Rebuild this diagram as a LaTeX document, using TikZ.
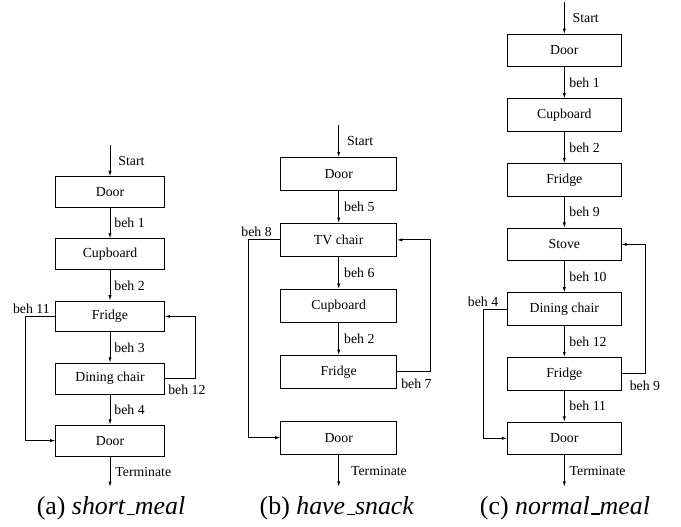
\documentclass[tikz,border=0pt]{standalone}
\usepackage{fontspec}
\setmainfont{Liberation Serif}
\usetikzlibrary{arrows.meta}
\newcommand\lowbar{\kern0.06em\rule[-0.02em]{0.32em}{0.05em}}
\begin{document}
\begin{tikzpicture}[x=0.75pt,y=-0.75pt,
  every node/.style={font=\fontsize{10.35}{12}\selectfont},
  boxa/.style={draw, line width=0.6pt, minimum width=81.4pt, minimum height=23.2pt, inner sep=0pt},
  boxb/.style={draw, line width=0.6pt, minimum width=86.8pt, minimum height=24.7pt, inner sep=0pt},
  boxc/.style={draw, line width=0.6pt, minimum width=85pt, minimum height=24.3pt, inner sep=0pt},
  arr/.style={line width=0.6pt, -{Latex[length=4pt,width=2.4pt]}},
  lbl/.style={anchor=west, inner sep=0pt},
  side/.style={inner sep=0pt},
  capt/.style={font=\fontsize{19.4}{22}\selectfont}]
\useasboundingbox (0,0) rectangle (681,527);

% ---------------- (a) short_meal ----------------
\node[boxa] (a1) at (110,192.2) {Door};
\node[boxa] (a2) at (110,254.3) {Cupboard};
\node[boxa] (a3) at (110,316.4) {Fridge};
\node[boxa] (a4) at (110,378.5) {Dining chair};
\node[boxa] (a5) at (110,440.6) {Door};
\coordinate (as) at (110,145);
\coordinate (at) at (110,487);
\coordinate (aL) at (25,0);
\coordinate (aR) at (195,0);
\draw[arr] (as) -- (a1) node[lbl, midway, xshift=6pt] {Start};
\draw[arr] (a1) -- (a2) node[lbl, midway, xshift=3pt] {beh 1};
\draw[arr] (a2) -- (a3) node[lbl, midway, xshift=3pt] {beh 2};
\draw[arr] (a3) -- (a4) node[lbl, midway, xshift=3pt] {beh 3};
\draw[arr] (a4) -- (a5) node[lbl, midway, xshift=3pt] {beh 4};
\draw[arr] (a5) -- (at) node[lbl, midway, xshift=3.75pt] {Terminate};
\draw[arr] (a3.west) -- (a3.west -| aL) |- (a5.west);
\draw[arr] (a4.east) -- (a4.east -| aR) |- (a3.east);
\node[side, anchor=base east] (la11) at (50,313) {beh 11};
\node[side, anchor=base west] (la12) at (168,394) {beh 12};
\node[capt] (capa) at (111,508.5) {(a) \textit{short\lowbar meal}};

% ---------------- (b) have_snack ----------------
\node[boxb] (b1) at (338.7,174) {Door};
\node[boxb] (b2) at (338.7,239.9) {TV chair};
\node[boxb] (b3) at (338.7,305.8) {Cupboard};
\node[boxb] (b4) at (338.7,371.7) {Fridge};
\node[boxb] (b5) at (338.7,437.6) {Door};
\coordinate (bs) at (338.7,125);
\coordinate (bt) at (338.7,486.7);
\coordinate (bL) at (248.3,0);
\coordinate (bR) at (430,0);
\draw[arr] (bs) -- (b1) node[lbl, midway, xshift=6pt] {Start};
\draw[arr] (b1) -- (b2) node[lbl, midway, xshift=3.8pt] {beh 5};
\draw[arr] (b2) -- (b3) node[lbl, midway, xshift=3.8pt] {beh 6};
\draw[arr] (b3) -- (b4) node[lbl, midway, xshift=3.8pt] {beh 2};
\draw[arr] (b5) -- (bt) node[lbl, midway, xshift=9pt] {Terminate};
\draw[arr] (b2.west) -- (b2.west -| bL) |- (b5.west);
\draw[arr] (b4.east) -- (b4.east -| bR) |- (b2.east);
\node[side, anchor=base east] (lb8) at (272,236.5) {beh 8};
\node[side, anchor=base west] (lb7) at (401,388) {beh 7};
\node[capt] (capb) at (337,508.3) {(b) \textit{have\lowbar snack}};

% ---------------- (c) normal_meal ----------------
\node[boxc] (c1) at (564.3,50.5) {Door};
\node[boxc] (c2) at (564.3,115.1) {Cupboard};
\node[boxc] (c3) at (564.3,179.8) {Fridge};
\node[boxc] (c4) at (564.3,244.4) {Stove};
\node[boxc] (c5) at (564.3,309.0) {Dining chair};
\node[boxc] (c6) at (564.3,373.7) {Fridge};
\node[boxc] (c7) at (564.3,438.3) {Door};
\coordinate (cs) at (564.3,2);
\coordinate (ct) at (564.3,486.7);
\coordinate (cL) at (483.3,0);
\coordinate (cR) at (645,0);
\draw[arr] (cs) -- (c1) node[lbl, midway, xshift=6pt] {Start};
\draw[arr] (c1) -- (c2) node[lbl, midway, xshift=3.5pt] {beh 1};
\draw[arr] (c2) -- (c3) node[lbl, midway, xshift=3.5pt] {beh 2};
\draw[arr] (c3) -- (c4) node[lbl, midway, xshift=3.5pt] {beh 9};
\draw[arr] (c4) -- (c5) node[lbl, midway, xshift=3.5pt] {beh 10};
\draw[arr] (c5) -- (c6) node[lbl, midway, xshift=3.5pt] {beh 12};
\draw[arr] (c6) -- (c7) node[lbl, midway, xshift=3.5pt] {beh 11};
\draw[arr] (c7) -- (ct) node[lbl, midway, xshift=3.75pt] {Terminate};
\draw[arr] (c5.west) -- (c5.west -| cL) |- (c7.west);
\draw[arr] (c6.east) -- (c6.east -| cR) |- (c4.east);
\node[side, anchor=base east] (lc4) at (498.5,306) {beh 4};
\node[side, anchor=base west] (lc9) at (629.5,390.5) {beh 9};
\node[capt] (capc) at (565,508) {(c) \textit{normal\lowbar meal}};
\end{tikzpicture}
\end{document}
